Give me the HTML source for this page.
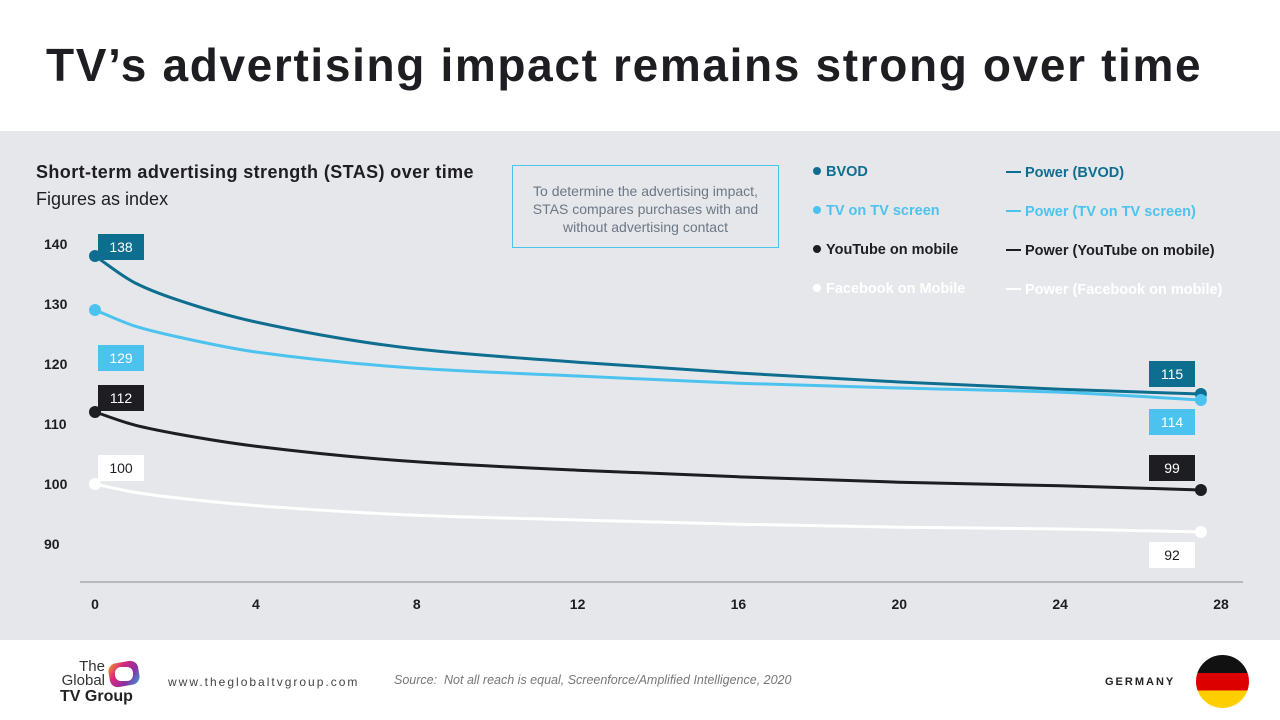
<!DOCTYPE html>
<html><head><meta charset="utf-8"><style>
body{margin:0;width:1280px;height:720px;overflow:hidden;background:#fff;font-family:"Liberation Sans",sans-serif;position:relative}
.abs{position:absolute}
</style></head><body>
<div class="abs" style="left:46px;top:38px;font-size:46px;font-weight:bold;letter-spacing:1.65px;color:#1d1d22">TV’s advertising impact remains strong over time</div>
<div class="abs" style="left:0;top:131px;width:1280px;height:509px;background:#e6e7ea"></div>
<div class="abs" style="left:36px;top:162px;font-size:18px;font-weight:bold;letter-spacing:0.4px;color:#1d1d22">Short-term advertising strength (STAS) over time</div>
<div class="abs" style="left:36px;top:189px;font-size:18px;color:#1d1d22">Figures as index</div>
<div class="abs" style="left:512px;top:165px;width:267px;height:83px;border:1px solid #4cc3ee;box-sizing:border-box;font-size:14px;color:#6b7785;text-align:center;padding:16px 18px 0;line-height:18px">To determine the advertising impact, STAS compares purchases with and without advertising contact</div>
<svg class="abs" style="left:0;top:0" width="1280" height="720" id="chart"></svg>
<div class="abs" style="left:60px;top:660px;width:85px;height:45px">
 <div style="position:absolute;right:40px;top:0;font-size:15px;line-height:14px;color:#333;text-align:right">The<br>Global</div>
 <div style="position:absolute;left:0;top:28px;font-size:16px;font-weight:bold;color:#222;white-space:nowrap">TV Group</div>
 <div style="position:absolute;left:49px;top:2px;width:30px;height:24px;border-radius:8px;background:linear-gradient(135deg,#f7a21b,#d6287f,#8c2fa0,#2aa8e0);transform:rotate(-10deg)"></div>
 <div style="position:absolute;left:55px;top:7px;width:18px;height:14px;border-radius:6px;background:#fff"></div>
</div>
<div class="abs" style="left:168px;top:675px;font-size:12px;letter-spacing:2px;color:#444">www.theglobaltvgroup.com</div>
<div class="abs" style="left:394px;top:673px;font-size:12.5px;font-style:italic;color:#777">Source:&nbsp; Not all reach is equal, Screenforce/Amplified Intelligence, 2020</div>
<div class="abs" style="left:1105px;top:676px;font-size:11px;font-weight:bold;letter-spacing:2px;color:#222">GERMANY</div>
<div class="abs" style="left:1196px;top:655px;width:53px;height:53px;border-radius:50%;overflow:hidden;background:linear-gradient(#111 0 34%,#dd0000 34% 67%,#ffce00 67%)"></div>
<script>
const xs=[0,1,2,4,8,12,16,20,24,27.5];
const bvod=[138,133.5,130.8,127,122.5,120.3,118.5,117,115.8,115];
const tvs=[129,126.3,124.6,122,119.3,118,116.8,116,115.3,114];
const yt=[112,109.8,108.4,106.3,103.7,102.3,101.2,100.3,99.7,99];
const fb=[100,98.6,97.7,96.4,94.8,94,93.3,92.8,92.5,92];
const yTicks=[140,130,120,110,100,90];
const xTicks=[0,4,8,12,16,20,24,28];
const X=v=>95+v*(1221-95)/28, Y=v=>244+(140-v)*6;
const svg=document.getElementById('chart'),NS='http://www.w3.org/2000/svg';
function mk(t,a,p){const e=document.createElementNS(NS,t);for(const k in a)e.setAttribute(k,a[k]);(p||svg).appendChild(e);return e;}
let ax=mk('line',{x1:80,x2:1243,y1:582,y2:582,stroke:'#888','stroke-width':1});

yTicks.forEach(v=>{const t=mk('text',{x:44,y:Y(v)+5,'font-size':14,'font-weight':'bold',fill:'#1d1d22'});t.textContent=v;
});
xTicks.forEach(v=>{const t=mk('text',{x:X(v),y:609,'font-size':14,'font-weight':'bold',fill:'#1d1d22','text-anchor':'middle'});t.textContent=v;
});
function path(vals){
 const n=xs.length,h=[],dl=[],m=[];
 for(let i=0;i<n-1;i++){h[i]=xs[i+1]-xs[i];dl[i]=(vals[i+1]-vals[i])/h[i];}
 m[0]=dl[0];m[n-1]=dl[n-2];
 for(let i=1;i<n-1;i++){if(dl[i-1]*dl[i]<=0)m[i]=0;else{const w1=2*h[i]+h[i-1],w2=h[i]+2*h[i-1];m[i]=(w1+w2)/(w1/dl[i-1]+w2/dl[i]);}}
 let d='M'+X(xs[0])+','+Y(vals[0]);
 for(let i=0;i<n-1;i++){const x0=xs[i],x1=xs[i+1];
  d+=` C${X(x0+h[i]/3)},${Y(vals[i]+m[i]*h[i]/3)} ${X(x1-h[i]/3)},${Y(vals[i+1]-m[i+1]*h[i]/3)} ${X(x1)},${Y(vals[i+1])}`;}
 return d;}
const series=[['bvod',bvod,'#0e6e90','#fff',-9,-20],['tv-on-tv-screen',tvs,'#4cc3ee','#fff',48,22],['youtube-on-mobile',yt,'#1d1d22','#fff',-14,-22],['facebook-on-mobile',fb,'#fff','#1d1d22',-16,23]];
series.forEach(([n,v,c,tc,o1,o2])=>{
 const l=mk('path',{d:path(v),fill:'none',stroke:c,'stroke-width':3});
 
 [[0,o1,121],[v.length-1,o2,1172]].forEach(([i,o,bx])=>{
  const d=mk('circle',{cx:X(xs[i]),cy:Y(v[i]),r:6,fill:c});
  
  const r=mk('rect',{x:bx-23,y:Y(v[i])+o-13,width:46,height:26,fill:c});
  
  const t=mk('text',{x:bx,y:Y(v[i])+o+5,'font-size':14,fill:tc,'text-anchor':'middle'});t.textContent=v[i];
  
 });
});
const leg=[['BVOD','Power (BVOD)','#0e6e90'],['TV on TV screen','Power (TV on TV screen)','#4cc3ee'],['YouTube on mobile','Power (YouTube on mobile)','#1d1d22'],['Facebook on Mobile','Power (Facebook on mobile)','#fff']];
leg.forEach(([a,b,c],i)=>{const y=171+i*39;
 const g=mk('g',{});
 mk('circle',{cx:817,cy:y,r:4,fill:c},g);
 const t=mk('text',{x:826,y:y+5,'font-size':14.5,'font-weight':'bold',fill:c},g);t.textContent=a;
 const g2=mk('g',{});
 mk('line',{x1:1006,x2:1021,y1:y+1,y2:y+1,stroke:c,'stroke-width':2},g2);
 const t2=mk('text',{x:1025,y:y+6,'font-size':14.5,'font-weight':'bold',fill:c},g2);t2.textContent=b;
});
</script>
</body></html>
